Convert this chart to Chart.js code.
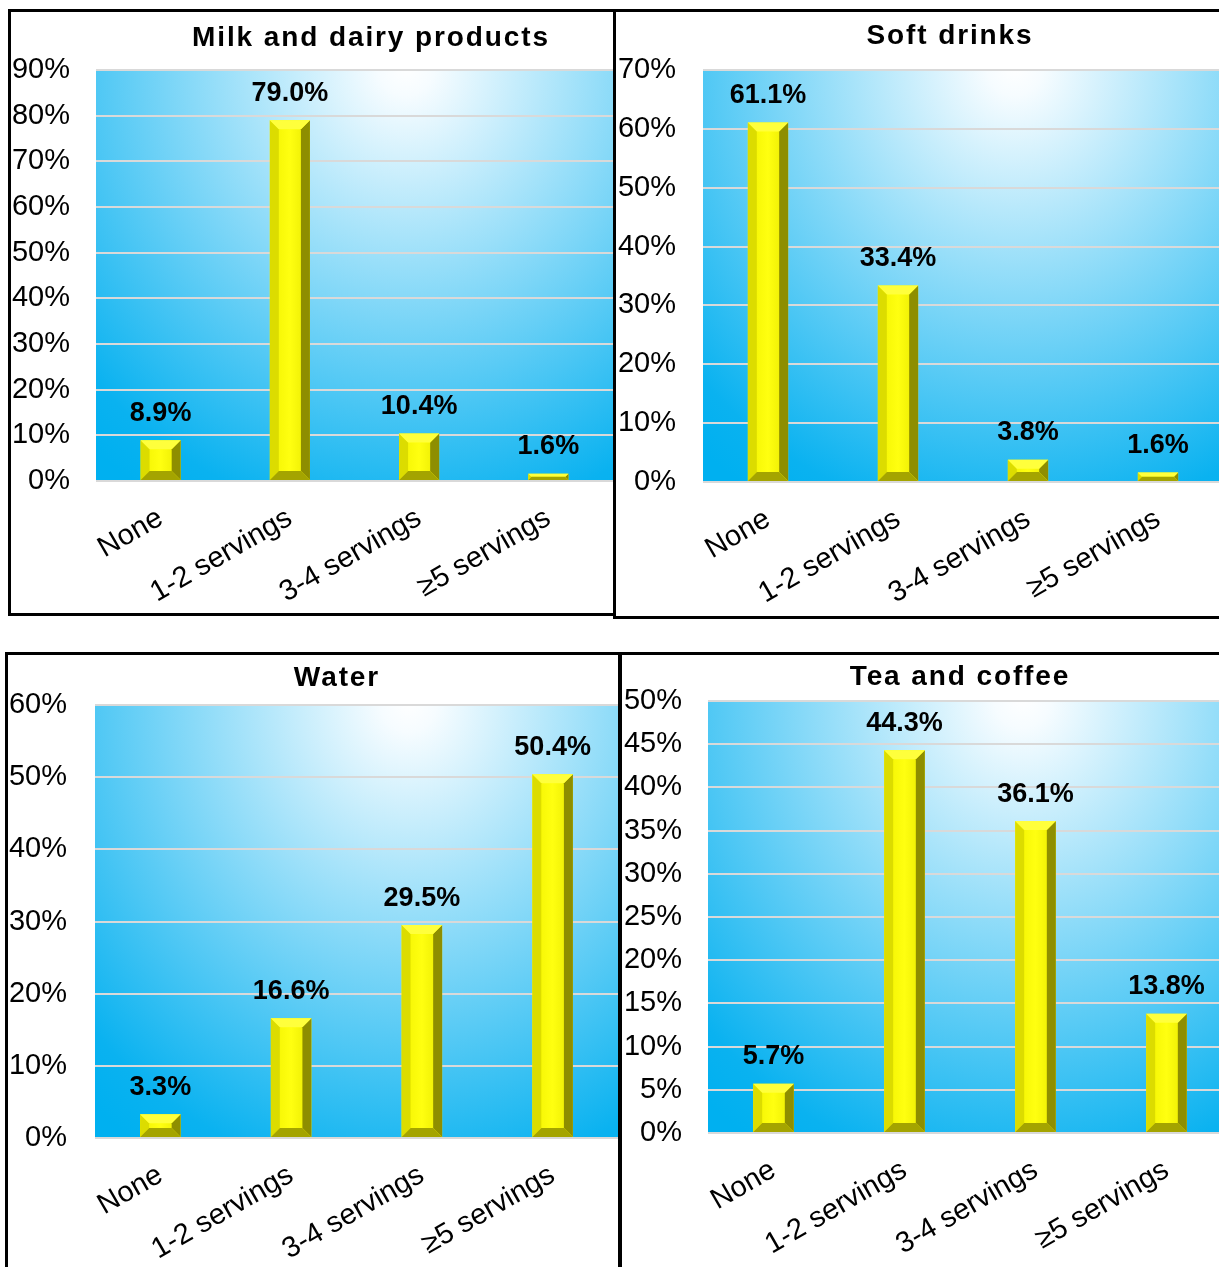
<!DOCTYPE html>
<html>
<head>
<meta charset="utf-8">
<script src="https://cdn.jsdelivr.net/npm/chart.js@4.4.0/dist/chart.umd.min.js"></script>
<style>
  html, body { margin: 0; padding: 0; background: #fff; }
  body { width: 1219px; height: 1267px; overflow: hidden; position: relative; }
  .panel { position: absolute; border: 3px solid #000; box-sizing: border-box; background: #fff; overflow: hidden; }
  .panel canvas { display: block; }
</style>
</head>
<body>
<div class="panel" id="p-milk"><canvas id="c-milk"></canvas></div>
<div class="panel" id="p-soft"><canvas id="c-soft"></canvas></div>
<div class="panel" id="p-water"><canvas id="c-water"></canvas></div>
<div class="panel" id="p-tea"><canvas id="c-tea"></canvas></div>
<script>
// servings per day, share of respondents (%)
const categories = ['None', '1-2 servings', '3-4 servings', '\u22655 servings'];
const milkValues = [8.9, 79.0, 10.4, 1.6];
const softDrinkValues = [61.1, 33.4, 3.8, 1.6];
const waterValues = [3.3, 16.6, 29.5, 50.4];
const teaCoffeeValues = [5.7, 44.3, 36.1, 13.8];
const panelTitles = ['Milk and dairy products', 'Soft drinks', 'Water', 'Tea and coffee'];
const yMax = [90, 70, 60, 50];
const yStep = [10, 10, 10, 5];

const FONT = '"Liberation Sans", Arial, sans-serif';

// box = outer frame in page px, the rest is relative to the canvas inside it
const panels = [
    { id: 'milk',  values: milkValues,      box: [8, 9, 608, 607],   yWidth: 85, yPad: 26, xHeight: 132, padTop: 58, padRight: 0, titleX: 360, titleY: 26 },
    { id: 'soft',  values: softDrinkValues, box: [613, 9, 620, 610], yWidth: 87, yPad: 27, xHeight: 134, padTop: 58, padRight: 7, titleX: 334, titleY: 24 },
    { id: 'water', values: waterValues,     box: [5, 652, 616, 620], yWidth: 87, yPad: 28, xHeight: 131, padTop: 50, padRight: 0, titleX: 329, titleY: 23 },
    { id: 'tea',   values: teaCoffeeValues, box: [619, 652, 620, 620], yWidth: 86, yPad: 26, xHeight: 136, padTop: 46, padRight: 4, titleX: 338, titleY: 22 }
];

// elliptical white-to-blue fill behind the plot area
const plotBackground = {
    id: 'plotBackground',
    beforeDraw(chart) {
        const { ctx, chartArea: a } = chart;
        const w = a.right - a.left, h = a.bottom - a.top;
        const rx = w * 0.92, ry = h * 1.24;
        const cx = a.left + w * 0.6, cy = a.top - 5;
        ctx.save();
        ctx.beginPath();
        ctx.rect(a.left, a.top, w, h);
        ctx.clip();
        ctx.translate(cx, cy);
        ctx.scale(1, ry / rx);
        const g = ctx.createRadialGradient(0, 0, 0, 0, 0, rx);
        g.addColorStop(0, '#FFFFFF');
        g.addColorStop(0.06, '#F6FCFF');
        g.addColorStop(0.9, '#0AB2F0');
        g.addColorStop(1, '#00B0F0');
        ctx.fillStyle = g;
        ctx.fillRect(-w * 2, -10, w * 4, h * 4);
        ctx.restore();
    }
};

// bevelled edges on each bar + value label above it
const bevelBars = {
    id: 'bevelBars',
    afterDatasetsDraw(chart) {
        const ctx = chart.ctx;
        const meta = chart.getDatasetMeta(0);
        const data = chart.data.datasets[0].data;
        ctx.save();
        meta.data.forEach((bar, i) => {
            const { x, y, base, width } = bar.getProps(['x', 'y', 'base', 'width'], true);
            const l = x - width / 2, r = x + width / 2, t = y, btm = base;
            const b = Math.min(9, (btm - t) / 2, width / 2);
            const poly = (pts, color) => {
                ctx.beginPath();
                ctx.moveTo(pts[0][0], pts[0][1]);
                for (let k = 1; k < pts.length; k++) ctx.lineTo(pts[k][0], pts[k][1]);
                ctx.closePath();
                ctx.fillStyle = color;
                ctx.fill();
            };
            // front face
            const fg = ctx.createLinearGradient(l, 0, r, 0);
            fg.addColorStop(0, '#F2F200');
            fg.addColorStop(0.5, '#FFFF10');
            fg.addColorStop(1, '#E8E800');
            poly([[l + b, t + b], [r - b, t + b], [r - b, btm - b], [l + b, btm - b]], fg);
            poly([[l, t], [l + b, t + b], [l + b, btm - b], [l, btm]], '#DCDC00');
            poly([[r, t], [r - b, t + b], [r - b, btm - b], [r, btm]], '#8E8E00');
            poly([[l, t], [r, t], [r - b, t + b], [l + b, t + b]], '#FFFF3C');
            poly([[l, btm], [r, btm], [r - b, btm - b], [l + b, btm - b]], '#A4A400');

            ctx.fillStyle = '#000';
            ctx.font = 'bold 27px ' + FONT;
            ctx.textAlign = 'center';
            ctx.textBaseline = 'middle';
            ctx.fillText(data[i].toFixed(1) + '%', x, t - 27);
        });
        ctx.restore();
    }
};

// bold spaced title placed above the plot
const panelTitle = {
    id: 'panelTitle',
    afterDraw(chart, args, opts) {
        const ctx = chart.ctx;
        ctx.save();
        ctx.font = 'bold 28px ' + FONT;
        ctx.letterSpacing = '1.9px';
        ctx.fillStyle = '#000';
        ctx.textAlign = 'center';
        ctx.textBaseline = 'middle';
        ctx.fillText(opts.text, opts.x, opts.y);
        ctx.restore();
    }
};

panels.forEach((p, idx) => {
    const box = document.getElementById('p-' + p.id);
    const [bl, bt, bw, bh] = p.box;
    box.style.left = bl + 'px';
    box.style.top = bt + 'px';
    box.style.width = bw + 'px';
    box.style.height = bh + 'px';

    const canvas = document.getElementById('c-' + p.id);
    canvas.width = bw - 6;
    canvas.height = bh - 6;

    new Chart(canvas.getContext('2d'), {
        type: 'bar',
        data: {
            labels: categories,
            datasets: [{
                data: p.values,
                backgroundColor: '#FFFF00',
                borderWidth: 0,
                barPercentage: 0.31,
                categoryPercentage: 1.0
            }]
        },
        options: {
            responsive: false,
            animation: false,
            layout: { padding: { top: p.padTop, right: p.padRight, left: 0, bottom: 0 } },
            plugins: {
                legend: { display: false },
                tooltip: { enabled: false },
                panelTitle: { text: panelTitles[idx], x: p.titleX, y: p.titleY }
            },
            scales: {
                y: {
                    min: 0,
                    max: yMax[idx],
                    afterFit(scale) { scale.width = p.yWidth; },
                    grid: { color: '#D9D9D9', lineWidth: 2, drawTicks: false },
                    border: { display: false },
                    ticks: {
                        stepSize: yStep[idx],
                        padding: p.yPad,
                        color: '#000',
                        font: { family: FONT, size: 29 },
                        callback: v => v + '%'
                    }
                },
                x: {
                    afterFit(scale) { scale.height = p.xHeight; },
                    grid: { display: false, drawTicks: false },
                    border: { display: false },
                    ticks: {
                        minRotation: 30,
                        maxRotation: 30,
                        autoSkip: false,
                        padding: 20,
                        color: '#000',
                        font: { family: FONT, size: 29 }
                    }
                }
            }
        },
        plugins: [plotBackground, bevelBars, panelTitle]
    });
});
</script>
</body>
</html>
